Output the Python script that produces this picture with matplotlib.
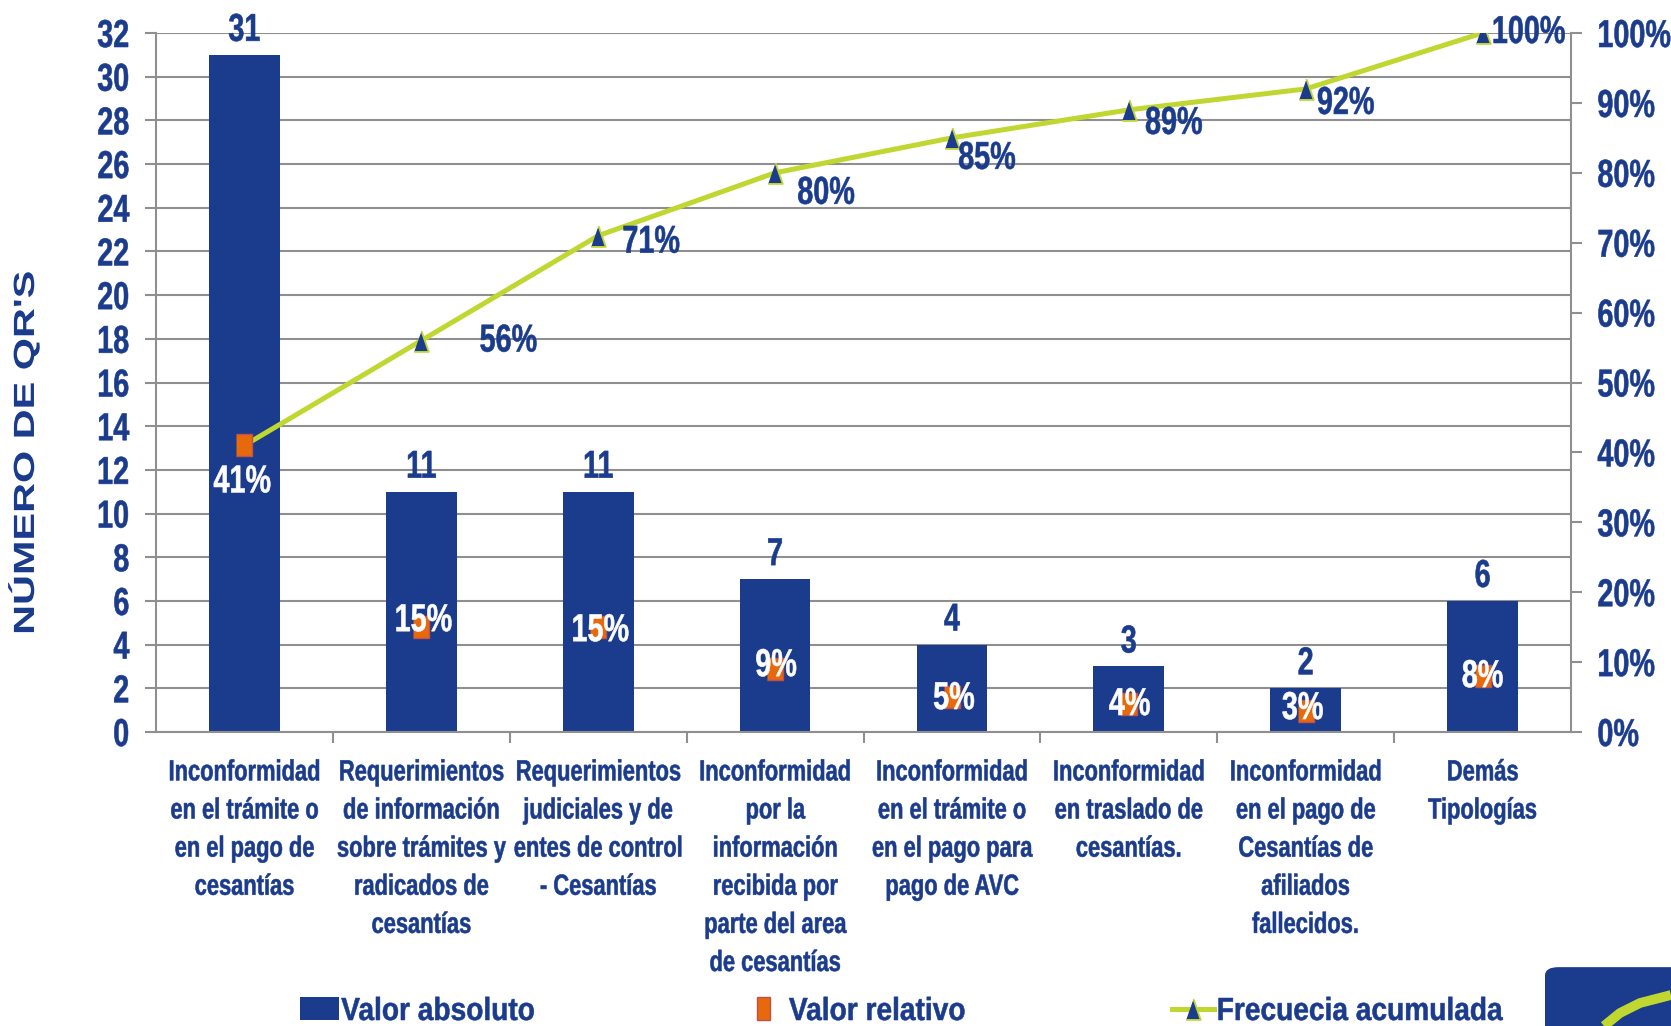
import matplotlib
matplotlib.use("Agg")
import matplotlib.pyplot as plt
from matplotlib.patches import FancyBboxPatch, Patch
from matplotlib.lines import Line2D
from matplotlib.patheffects import AbstractPathEffect
from matplotlib.transforms import Affine2D

# datos
categorias = [
    "Inconformidad\nen el trámite o\nen el pago de\ncesantías",
    "Requerimientos\nde información\nsobre trámites y\nradicados de\ncesantías",
    "Requerimientos\njudiciales y de\nentes de control\n- Cesantías",
    "Inconformidad\npor la\ninformación\nrecibida por\nparte del area\nde cesantías",
    "Inconformidad\nen el trámite o\nen el pago para\npago de AVC",
    "Inconformidad\nen traslado de\ncesantías.",
    "Inconformidad\nen el pago de\nCesantías de\nafiliados\nfallecidos.",
    "Demás\nTipologías",
]
valor_absoluto = [31, 11, 11, 7, 4, 3, 2, 6]
valor_relativo = [41, 15, 15, 9, 5, 4, 3, 8]
frecuencia_acum = [41, 56, 71, 80, 85, 89, 92, 100]

# desplazamientos de las etiquetas (pixeles)
offs_rel = [(-2, -37), (2, 6), (2, -4), (1, 3), (2, -2), (1, -1), (-3, 2), (0, -1)]
offs_acum = [(0, 0), (87, -1), (53, -7), (51, -21), (35, -21), (45, -14), (40, -15), (46, 0)]

AZUL = "#1B3C8C"
NARANJA = "#E8690C"
VERDE = "#BFD730"
GRIS = "#8F8F8F"

plt.rcParams["font.family"] = ["Liberation Sans", "DejaVu Sans"]
plt.rcParams["font.weight"] = "bold"


class Estrecho(AbstractPathEffect):
    """comprime el texto en horizontal (tipo Arial Narrow)"""
    def __init__(self, factor=0.72, anclaje="center", grosor=0.4):
        super().__init__()
        self.factor = factor
        self.anclaje = anclaje
        self.grosor = grosor

    def draw_path(self, renderer, gc, tpath, affine, rgbFace=None):
        ext = tpath.get_extents()
        if self.anclaje == "left":
            cx = 0
        elif self.anclaje == "right":
            cx = ext.x1
        else:
            cx = (ext.x0 + ext.x1) / 2
        t = Affine2D().translate(-cx, 0).scale(self.factor, 1).translate(cx, 0) + affine
        gc0 = renderer.new_gc()
        gc0.copy_properties(gc)
        if self.grosor and rgbFace is not None:
            gc0.set_linewidth(self.grosor)
            gc0.set_foreground(rgbFace)
        renderer.draw_path(gc0, tpath, t, rgbFace)
        gc0.restore()


fig = plt.figure(figsize=(16.71, 10.26), dpi=100)
ax = fig.add_axes([156 / 1671, 1 - 732 / 1026, (1571 - 156) / 1671, (732 - 33) / 1026])
ax2 = ax.twinx()

x = list(range(len(categorias)))
ax.bar(x, valor_absoluto, width=0.4, color=AZUL, zorder=2)
ax.set_xlim(-0.5, len(categorias) - 0.5)
ax.set_ylim(0, 32)
ax.set_yticks(range(0, 33, 2))
ax.yaxis.grid(True, color=GRIS, linewidth=1.5, zorder=0)
ax.set_axisbelow(True)
ax.set_xticks(x)
ax.set_xticklabels(categorias, fontsize=21, color=AZUL, linespacing=1.46, va="top")
ax.set_xticks([i + 0.5 for i in x[:-1]], minor=True)
ax.tick_params(axis="x", which="major", length=0, pad=19)
ax.tick_params(axis="x", which="minor", length=8, width=1.5, color=GRIS)
ax.tick_params(axis="y", length=8, width=1.5, color=GRIS, labelsize=28, labelcolor=AZUL, pad=11)
for s in ["top", "right"]:
    ax.spines[s].set_visible(False)
for s in ["left", "bottom"]:
    ax.spines[s].set_color(GRIS)
    ax.spines[s].set_linewidth(1.5)
ax.set_ylabel("NÚMERO DE QR'S", fontsize=21, color=AZUL, fontweight="bold")
ax.yaxis.set_label_coords(-0.082, 0.40)
ax.yaxis.label.set_path_effects([Estrecho(1.42, grosor=0)])

textos_num = []
for xi, v in zip(x, valor_absoluto):
    textos_num.append(ax.annotate(str(v), (xi, v), xytext=(0, 14), textcoords="offset pixels",
                                  ha="center", va="baseline", fontsize=28, color=AZUL))

# eje derecho (porcentajes)
ax2.set_ylim(0, 100)
ax2.set_yticks(range(0, 101, 10))
ax2.set_yticklabels([f"{t}%" for t in range(0, 101, 10)])
ax2.tick_params(axis="y", length=8, width=1.5, color=GRIS, labelsize=28, labelcolor=AZUL, pad=11)
for s in ["top", "left", "bottom"]:
    ax2.spines[s].set_visible(False)
ax2.spines["right"].set_color(GRIS)
ax2.spines["right"].set_linewidth(1.5)

triangulo = [(-0.7, -1), (0.7, -1), (0, 1)]
rectangulo = [(-0.68, -1), (0.68, -1), (0.68, 1), (-0.68, 1)]

ax2.plot(x, frecuencia_acum, color=VERDE, linewidth=3.6, marker=triangulo, markersize=15,
         markerfacecolor=AZUL, markeredgecolor=VERDE, markeredgewidth=1.3, zorder=3)
ax2.plot(x, valor_relativo, linestyle="none", marker=rectangulo, markersize=16,
         markerfacecolor=NARANJA, markeredgecolor="#C0504D", markeredgewidth=1, zorder=4)

for i, (xi, v) in enumerate(zip(x, valor_relativo)):
    dx, dy = offs_rel[i]
    textos_num.append(ax2.annotate(f"{v}%", (xi, v), xytext=(dx, dy), textcoords="offset pixels",
                                   ha="center", va="center", fontsize=28, color="white", zorder=5))

for i, (xi, v) in enumerate(zip(x, frecuencia_acum)):
    if i == 0:
        continue
    dx, dy = offs_acum[i]
    textos_num.append(ax2.annotate(f"{v}%", (xi, v), xytext=(dx, dy), textcoords="offset pixels",
                                   ha="center", va="center", fontsize=28, color=AZUL, zorder=5))

# leyenda (tres entradas separadas)
h1 = Patch(facecolor=AZUL, edgecolor="none")
h2 = Patch(facecolor=NARANJA, edgecolor="#C0504D", linewidth=1)
h3 = Line2D([], [], color=VERDE, linewidth=3.6, marker=triangulo, markersize=15,
            markerfacecolor=AZUL, markeredgecolor=VERDE, markeredgewidth=1.3)
entradas = [(h1, "Valor absoluto", 300, 1.22, 0.07),
            (h2, "Valor relativo", 757, 0.4, 0.6),
            (h3, "Frecuecia acumulada", 1172, 1.3, 0.1)]
leyendas = []
for h, txt, xl, hl, tp in entradas:
    lg = fig.legend([h], [txt], loc="center left", bbox_to_anchor=(xl / 1671, 1 - 1012 / 1026),
                    frameon=False, fontsize=23, handlelength=hl, handleheight=0.72,
                    handletextpad=tp, borderpad=0, borderaxespad=0, labelcolor=AZUL)
    leyendas.append(lg)

# texto estrecho
for t in ax.get_xticklabels():
    t.set_path_effects([Estrecho(0.75)])
for t in ax.get_yticklabels():
    t.set_path_effects([Estrecho(0.74, "right")])
for t in ax2.get_yticklabels():
    t.set_path_effects([Estrecho(0.74, "left")])
for t in textos_num:
    t.set_path_effects([Estrecho(0.74)])
for lg in leyendas:
    for t in lg.get_texts():
        t.set_path_effects([Estrecho(0.88, "left")])

# logo esquina
logo = FancyBboxPatch((1545 / 1671, 1 - 1040 / 1026), 0.12, 0.071, transform=fig.transFigure,
                      boxstyle="round,pad=0,rounding_size=0.008", facecolor=AZUL, edgecolor="none")
fig.patches.append(logo)
fig.lines.append(Line2D([1604 / 1671, 1620 / 1671, 1640 / 1671, 1671 / 1671],
                        [0.0, 1 - 1013 / 1026, 1 - 1003 / 1026, 1 - 995 / 1026],
                        transform=fig.transFigure, color=VERDE, linewidth=7, solid_capstyle="butt"))

fig.savefig("out.png", dpi=100)
